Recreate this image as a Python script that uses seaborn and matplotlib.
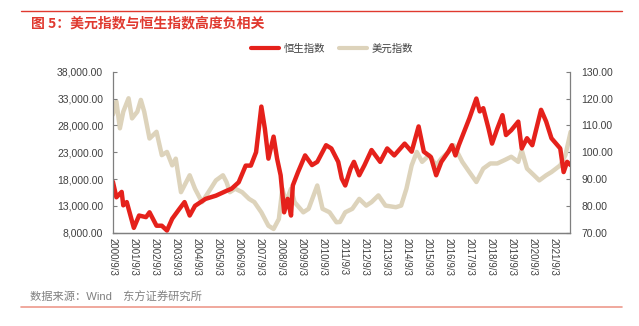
import matplotlib
matplotlib.use("Agg")
import matplotlib.pyplot as plt
import matplotlib.ticker as mticker
import pandas as pd
import seaborn as sns

# ---------------- data ----------------
hsi_dates = ["2000-09", "2000-11", "2001-02", "2001-03", "2001-05", "2001-09", "2001-12",
             "2002-04", "2002-06", "2002-10", "2003-01", "2003-04", "2003-07", "2003-11",
             "2004-02", "2004-05", "2004-08", "2005-02", "2005-08", "2006-02", "2006-05",
             "2006-09", "2007-01", "2007-04", "2007-07", "2007-10", "2007-12", "2008-02",
             "2008-05", "2008-07", "2008-09", "2008-11", "2009-01", "2009-03", "2009-04",
             "2009-07", "2009-11", "2010-03", "2010-06", "2010-11", "2011-02", "2011-06",
             "2011-08", "2011-10", "2012-01", "2012-03", "2012-06", "2012-09", "2013-01",
             "2013-06", "2013-10", "2014-02", "2014-08", "2014-12", "2015-04", "2015-07",
             "2015-11", "2016-02", "2016-05", "2016-09", "2016-11", "2017-01", "2017-03",
             "2017-06", "2017-09", "2018-01", "2018-03", "2018-05", "2018-08", "2018-10",
             "2019-01", "2019-04", "2019-06", "2019-09", "2020-01", "2020-03", "2020-06",
             "2020-09", "2021-02", "2021-05", "2021-08", "2022-01", "2022-03", "2022-05",
             "2022-07"]
hsi_values = [17500, 14600, 15600, 13100, 13700, 8900, 11200,
              10900, 11800, 9300, 9300, 8400, 10600, 12400,
              13700, 11200, 13000, 14300, 14900, 15800, 16200,
              17400, 20500, 20500, 23000, 31500, 27400, 21800,
              25900, 21800, 18700, 11800, 14300, 11200, 16800,
              19300, 22400, 20600, 21200, 24300, 23700, 21200,
              18100, 16800, 19900, 21200, 18700, 20600, 23400,
              21200, 23700, 22400, 24600, 23100, 27800, 23100,
              22100, 18700, 21200, 23100, 24300, 22400, 24300,
              26800, 29300, 33000, 30600, 31200, 27400, 24600,
              27400, 29900, 26200, 27100, 28700, 23700, 25600,
              24300, 30900, 28700, 25600, 23700, 19300, 21200,
              20600]

usd_dates = ["2000-09", "2000-11", "2001-01", "2001-03", "2001-06", "2001-08", "2001-11",
             "2002-01", "2002-03", "2002-06", "2002-10", "2003-01", "2003-04", "2003-07",
             "2003-09", "2003-12", "2004-05", "2004-08", "2004-12", "2005-05", "2005-08",
             "2005-12", "2006-02", "2006-04", "2006-07", "2006-11", "2007-03", "2007-06",
             "2007-10", "2008-02", "2008-05", "2008-08", "2008-10", "2008-12", "2009-03",
             "2009-05", "2009-10", "2010-01", "2010-06", "2010-09", "2011-01", "2011-05",
             "2011-07", "2011-10", "2012-02", "2012-06", "2012-10", "2013-01", "2013-05",
             "2013-09", "2014-03", "2014-06", "2014-09", "2014-12", "2015-03", "2015-06",
             "2015-10", "2016-02", "2016-05", "2016-09", "2016-12", "2017-02", "2017-05",
             "2017-09", "2018-01", "2018-05", "2018-09", "2019-01", "2019-05", "2019-09",
             "2020-01", "2020-03", "2020-06", "2020-10", "2021-01", "2021-05", "2021-08",
             "2022-01", "2022-04", "2022-07"]
usd_values = [114.0, 118.9, 108.9, 115.1, 120.1, 112.6, 115.1,
              119.5, 115.1, 105.1, 107.6, 98.9, 100.1, 95.1,
              97.6, 85.1, 91.4, 86.4, 81.4, 86.4, 89.5,
              91.4, 88.9, 85.1, 86.4, 85.1, 82.6, 81.4,
              77.6, 72.6, 71.4, 75.1, 86.4, 81.4, 86.4,
              81.4, 77.6, 78.9, 87.6, 78.9, 77.6, 73.9,
              74.0, 77.6, 78.9, 82.6, 80.1, 81.4, 83.9,
              80.1, 79.5, 80.1, 86.4, 95.1, 100.1, 96.4,
              98.9, 95.1, 97.6, 100.1, 102.6, 100.1, 96.4,
              92.6, 88.9, 93.9, 95.8, 95.8, 97.0, 98.3,
              96.4, 100.8, 93.9, 91.4, 89.5, 91.4, 92.6,
              95.1, 98.9, 107.6]

tick_dates = [f"{y}-09-03" for y in range(2000, 2022)]
tick_labels = [f"{y}/9/3" for y in range(2000, 2022)]

left_ticks = [8000, 13000, 18000, 23000, 28000, 33000, 38000]
right_ticks = [70, 80, 90, 100, 110, 120, 130]

title_text = "图 5：美元指数与恒生指数高度负相关"
source_text = "数据来源：Wind　东方证券研究所"
hsi_name = "恒生指数"
usd_name = "美元指数"

# ---------------- style ----------------
sns.set_theme(style="white")
plt.rcParams["font.family"] = ["Liberation Sans", "Noto Sans CJK SC", "DejaVu Sans"]

RED = "#E5211B"
BEIGE = "#DDD3BB"
AXCOL = "#7F7F7F"
TXT = "#404040"

hsi = pd.DataFrame({"date": pd.to_datetime(hsi_dates, format="%Y-%m"), "value": hsi_values})
usd = pd.DataFrame({"date": pd.to_datetime(usd_dates, format="%Y-%m"), "value": usd_values})

fig = plt.figure(figsize=(6.39, 3.26), dpi=100)
ax = fig.add_axes([113 / 639, 1 - 232.7 / 326, (570 - 113) / 639, (232.7 - 71.7) / 326])
ax2 = ax.twinx()

sns.lineplot(data=usd, x="date", y="value", ax=ax2, color=BEIGE, lw=3.2, label=usd_name)
sns.lineplot(data=hsi, x="date", y="value", ax=ax, color=RED, lw=3.2, label=hsi_name)

ax.set_zorder(ax2.get_zorder() + 1)
ax.patch.set_visible(False)

ax.set_xlim(pd.Timestamp("2000-09-03"), pd.Timestamp("2022-06-20"))
ax.set_ylim(8000, 38000)
ax2.set_ylim(70, 130)

ax.set_yticks(left_ticks)
ax.yaxis.set_major_formatter(mticker.FuncFormatter(lambda v, p: f"{v:,.2f}"))
ax2.set_yticks(right_ticks)
ax2.yaxis.set_major_formatter(mticker.FuncFormatter(lambda v, p: f"{v:.2f}"))

ax.set_xticks(pd.to_datetime(tick_dates))
ax.set_xticklabels(tick_labels, rotation=-90, va="top", ha="center")

for a in (ax, ax2):
    a.set_xlabel("")
    a.set_ylabel("")
    a.grid(False)
    for s in a.spines.values():
        s.set_color(AXCOL)
        s.set_linewidth(0.9)
    a.spines["top"].set_visible(False)
    a.tick_params(axis="both", direction="in", length=3, width=0.8, color=AXCOL,
                  labelsize=7.5, labelcolor=TXT)

ax.spines["right"].set_visible(False)
ax2.spines["left"].set_visible(False)
ax.tick_params(axis="y", pad=7)
ax2.tick_params(axis="y", pad=8)
ax.tick_params(axis="x", pad=4, labelsize=7)

# legend
h1, l1 = ax.get_legend_handles_labels()
h2, l2 = ax2.get_legend_handles_labels()
if ax.get_legend():
    ax.get_legend().remove()
if ax2.get_legend():
    ax2.get_legend().remove()
leg = fig.legend(h1 + h2, l1 + l2, loc="center", bbox_to_anchor=(332 / 639, 1 - 49 / 326),
                 ncol=2, frameon=False, fontsize=7.5, handlelength=2.7, columnspacing=1.4,
                 handletextpad=0.4, labelcolor=TXT)
for ln in leg.get_lines():
    ln.set_linewidth(3.0)

# title, decorations
fig.add_artist(plt.Line2D([21 / 639, 622 / 639], [1 - 11 / 326] * 2, color="#E0392F", lw=1.0))
fig.text(31 / 639, 1 - 23 / 326, title_text, color="#E0392F", fontsize=10, fontweight="bold",
         va="center", ha="left", family=["Noto Sans CJK SC", "DejaVu Sans"])
fig.text(30 / 639, 1 - 297 / 326, source_text, color="#808080", fontsize=8.1,
         va="center", ha="left", family=["Liberation Sans", "Noto Sans CJK SC"])
fig.add_artist(plt.Line2D([21 / 639, 622 / 639], [1 - 307 / 326] * 2, color="#EE9A8C", lw=1.2))

fig.savefig("out.png", dpi=100)
